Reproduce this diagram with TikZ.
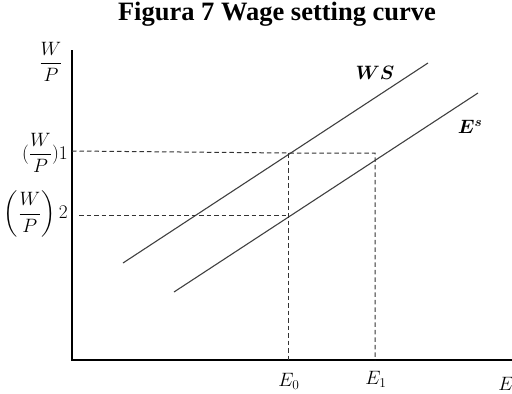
\documentclass[tikz,border=0pt]{standalone}
\usepackage{amsmath}
\usepackage{amsbsy}
\usepackage{graphicx}
\usepackage{fontspec}
\setmainfont{Liberation Serif}
\newcommand{\mylabtext}[1]{\scalebox{1.12}{$#1$}}
\begin{document}
\begin{tikzpicture}[x=1pt,y=-1pt,
  axis/.style={line width=1.3pt,black},
  curve/.style={line width=1.1pt,black!75},
  guide/.style={line width=1pt,black!80,dash pattern=on 4.5pt off 3pt},
  lab/.style={inner sep=0pt,font=\fontsize{17.28}{19}\selectfont}]
\useasboundingbox (0,0) rectangle (512,394);
\node[inner sep=0pt,font=\fontsize{26.5}{28}\selectfont\bfseries] (title) at (277,14) {Figura 7 Wage setting curve};
\coordinate (top) at (72,50);
\coordinate (orig) at (72,360);
\coordinate (right) at (512,360);
\draw[axis] (top) -- (orig) -- (right);
\coordinate (ws1) at (123,263);
\coordinate (ws2) at (428,63);
\coordinate (es1) at (174,292);
\coordinate (es2) at (478,93);
\draw[curve] (ws1) -- (ws2);
\draw[curve] (es1) -- (es2);
\coordinate (a) at (288,153);
\coordinate (b) at (375,153);
\coordinate (c) at (288,215);
\coordinate (h1) at (72,151);
\coordinate (h2) at (79,215);
\coordinate (v0) at (288,360);
\coordinate (v1) at (375,360);
\draw[guide] (h1) -- (a) -- (b) -- (v1);
\draw[guide] (h2) -- (c);
\draw[guide] (a) -- (v0);
\node[lab] (wp) at (51,62) {\mylabtext{\dfrac{W}{P}}};
\node[lab,anchor=east] (wp1) at (68,153) {\mylabtext{(\dfrac{W}{P})1}};
\node[lab,anchor=east] (wp2) at (68,214) {\mylabtext{\left(\dfrac{W}{P}\right)2}};
\node[lab] (ws) at (375,73) {\mylabtext{\boldsymbol{WS}}};
\node[lab] (es) at (470,127) {\mylabtext{\boldsymbol{E^s}}};
\node[lab] (e0) at (289,381) {\mylabtext{E_0}};
\node[lab] (e1) at (376,379) {\mylabtext{E_1}};
\node[lab] (e) at (506,384) {\mylabtext{E}};
\end{tikzpicture}
\end{document}
